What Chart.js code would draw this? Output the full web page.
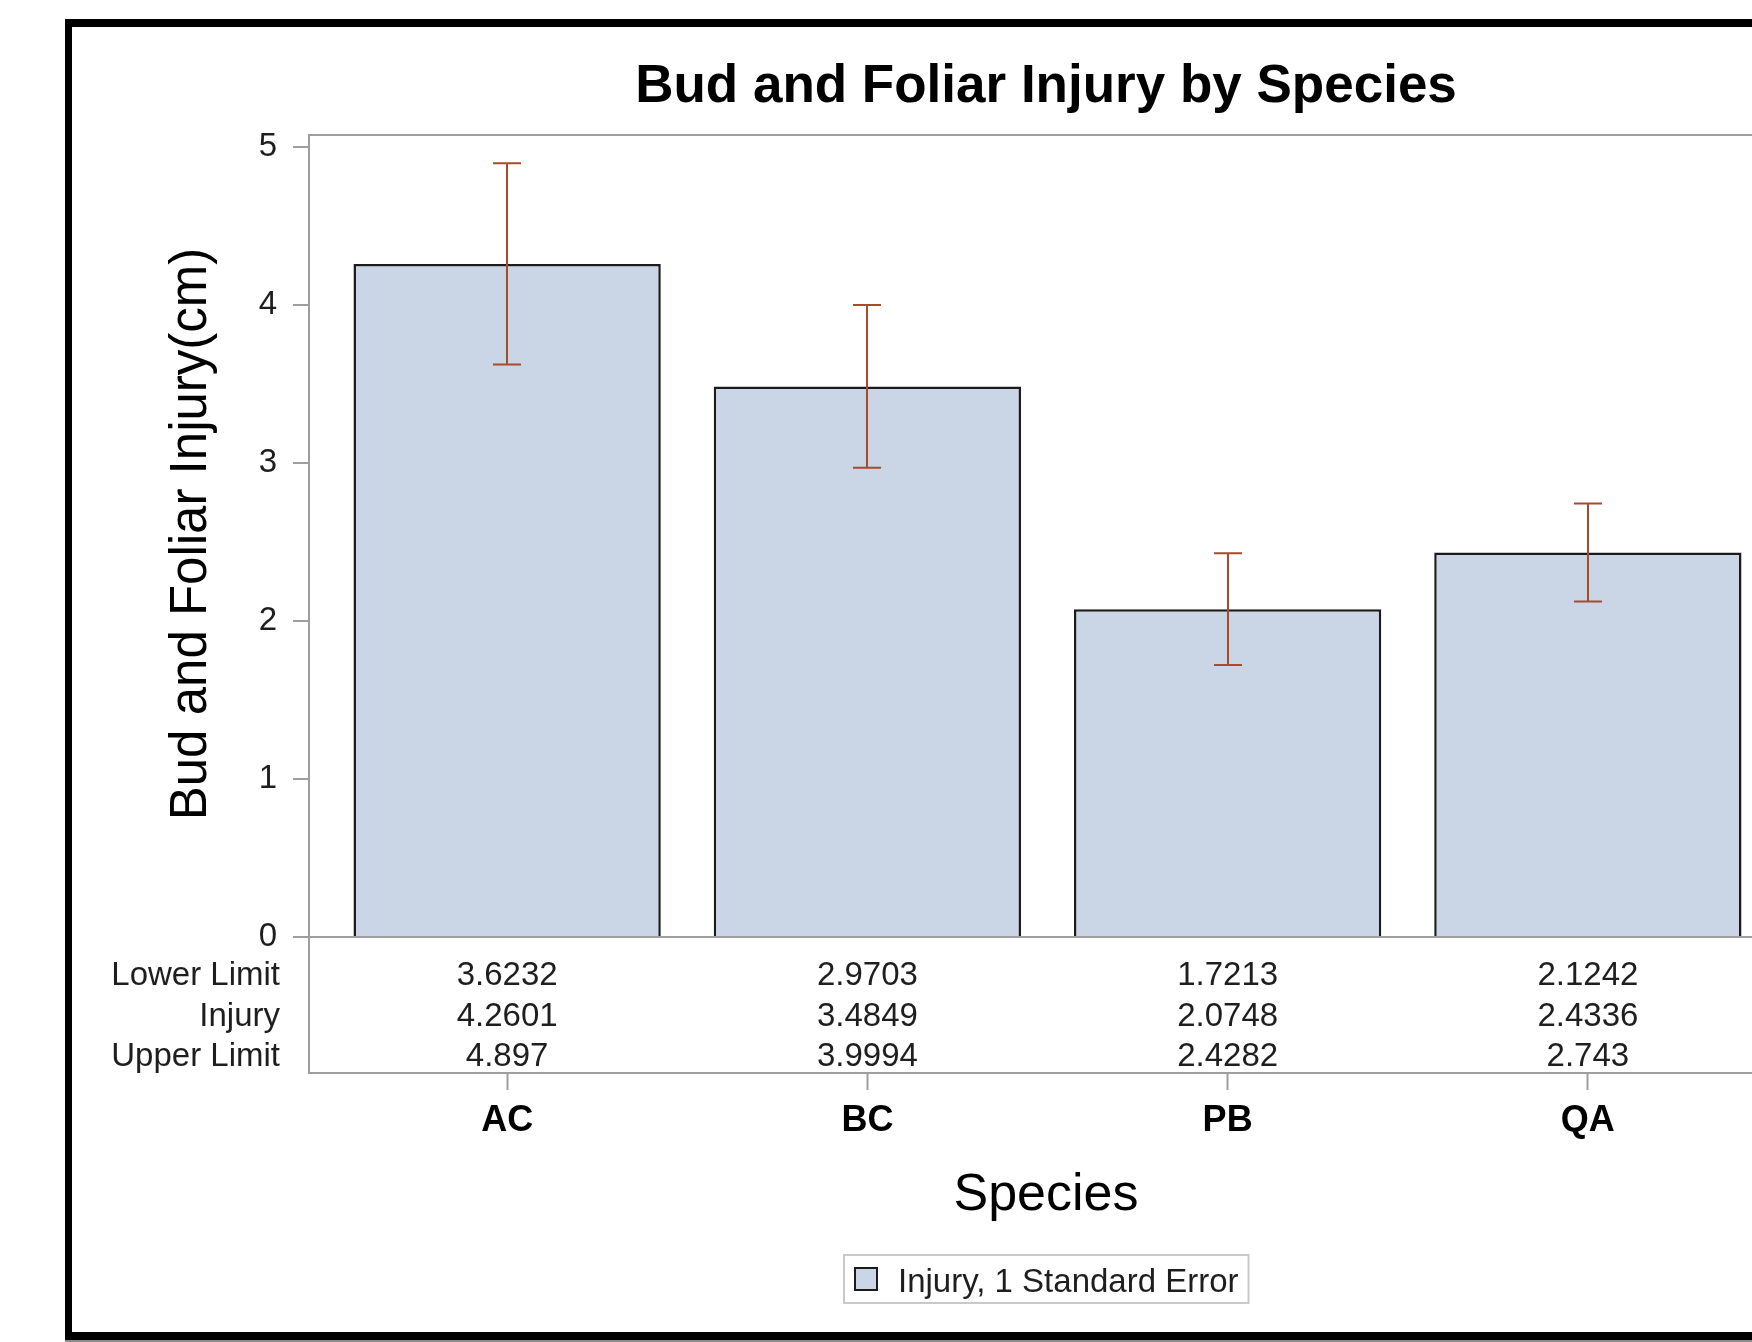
<!DOCTYPE html>
<html>
<head>
<meta charset="utf-8">
<title>Bud and Foliar Injury by Species</title>
<script src="https://cdn.jsdelivr.net/npm/chart.js@4.4.0/dist/chart.umd.min.js"></script>
<style>
  html, body { margin: 0; padding: 0; background: #fff; }
  #stage { position: relative; width: 1752px; height: 1342px; overflow: hidden; background: #fff; }
  #plot  { position: absolute; left: 0; top: 0; }
  #frame { position: absolute; left: 65px; top: 19px; width: 2000px; height: 1305px;
           border-left: 7px solid #000; border-top: 8px solid #000; border-bottom: 8px solid #000;
           pointer-events: none; }
  #strip { position: absolute; left: 65px; top: 1340px; width: 1700px; height: 2px; background: #8c8c8c; }
</style>
</head>
<body>
<div id="stage">
  <canvas id="plot" width="2092" height="1342"></canvas>
  <div id="frame"></div>
  <div id="strip"></div>
</div>
<script>
// ── Data ──────────────────────────────────────────────────────
const SPECIES     = ['AC', 'BC', 'PB', 'QA'];
const INJURY      = [4.2601, 3.4849, 2.0748, 2.4336];
const LOWER_LIMIT = [3.6232, 2.9703, 1.7213, 2.1242];
const UPPER_LIMIT = [4.897, 3.9994, 2.4282, 2.743];
const Y_TICKS     = [0, 1, 2, 3, 4, 5];
const ROW_LABELS  = ['Lower Limit', 'Injury', 'Upper Limit'];

const TITLE   = 'Bud and Foliar Injury by Species';
const X_TITLE = 'Species';
const Y_TITLE = 'Bud and Foliar Injury(cm)';
const LEGEND  = 'Injury, 1 Standard Error';

// ── Style ─────────────────────────────────────────────────────
const FONT      = "'Liberation Sans', Arial, Helvetica, sans-serif";
const BAR_FILL  = '#cad5e5';
const BAR_LINE  = '#1b1b1b';
const ERR_COLOR = '#a94b2b';
const AXIS_GRAY = '#9e9e9e';
const TEXT_DARK = '#1e1e1e';

// SAS-style extras: error bars, statistics table, titles, boxed legend
const sasDecor = {
    id: 'sasDecor',
    afterDatasetsDraw(chart) {
        const { ctx, chartArea: a, scales: { x, y } } = chart;
        ctx.save();

        // top / right edges of the plot frame
        ctx.strokeStyle = AXIS_GRAY;
        ctx.lineWidth = 2;
        ctx.beginPath();
        ctx.moveTo(a.left, a.top);
        ctx.lineTo(a.right, a.top);
        ctx.lineTo(a.right, a.bottom);
        ctx.stroke();

        // error bars
        ctx.strokeStyle = ERR_COLOR;
        ctx.lineWidth = 2;
        SPECIES.forEach((_, i) => {
            const px = Math.round(x.getPixelForValue(i));
            const lo = y.getPixelForValue(LOWER_LIMIT[i]);
            const hi = y.getPixelForValue(UPPER_LIMIT[i]);
            ctx.beginPath();
            ctx.moveTo(px, lo); ctx.lineTo(px, hi);
            ctx.moveTo(px - 14, lo); ctx.lineTo(px + 14, lo);
            ctx.moveTo(px - 14, hi); ctx.lineTo(px + 14, hi);
            ctx.stroke();
        });

        // statistics table under the zero line
        const rows = [LOWER_LIMIT, INJURY, UPPER_LIMIT];
        const baselines = [985, 1026, 1066];
        ctx.fillStyle = TEXT_DARK;
        ctx.font = `33px ${FONT}`;
        ctx.textBaseline = 'alphabetic';
        rows.forEach((vals, r) => {
            ctx.textAlign = 'right';
            ctx.fillText(ROW_LABELS[r], 280, baselines[r]);
            ctx.textAlign = 'center';
            vals.forEach((v, i) => ctx.fillText(String(v), x.getPixelForValue(i), baselines[r]));
        });
        ctx.restore();
    },
    afterDraw(chart) {
        const { ctx } = chart;
        const cx = chart.width / 2;
        ctx.save();
        ctx.fillStyle = '#000';

        // main title
        ctx.font = `bold 53px ${FONT}`;
        ctx.textAlign = 'center';
        ctx.textBaseline = 'alphabetic';
        ctx.fillText(TITLE, cx, 102);

        // x axis title
        ctx.font = `52px ${FONT}`;
        ctx.fillText(X_TITLE, cx, 1210);

        // y axis title
        ctx.font = `51px ${FONT}`;
        ctx.save();
        ctx.translate(192, 534);
        ctx.rotate(-Math.PI / 2);
        ctx.textBaseline = 'middle';
        ctx.fillText(Y_TITLE, 0, 0);
        ctx.restore();

        // legend box
        ctx.font = `33px ${FONT}`;
        const tw = ctx.measureText(LEGEND).width;
        const boxW = 12 + 23 + 19 + tw + 10;
        const bx = Math.round(cx - boxW / 2), by = 1255, bh = 48;
        ctx.strokeStyle = '#c9c9c9';
        ctx.lineWidth = 2;
        ctx.strokeRect(bx, by, boxW, bh);
        ctx.fillStyle = BAR_FILL;
        ctx.fillRect(bx + 11, by + 13, 22, 22);
        ctx.strokeStyle = BAR_LINE;
        ctx.strokeRect(bx + 11, by + 13, 22, 22);
        ctx.fillStyle = TEXT_DARK;
        ctx.textAlign = 'left';
        ctx.fillText(LEGEND, bx + 12 + 23 + 19, 1292);
        ctx.restore();
    }
};

new Chart(document.getElementById('plot'), {
    type: 'bar',
    data: {
        datasets: [{
            label: LEGEND,
            data: SPECIES.map((_, i) => ({ x: i, y: INJURY[i] })),
            backgroundColor: BAR_FILL,
            borderColor: BAR_LINE,
            borderWidth: 2.5,
            categoryPercentage: 1,
            barPercentage: 0.853,
        }],
    },
    options: {
        responsive: false, maintainAspectRatio: false, animation: false,
        devicePixelRatio: 1,
        layout: { padding: { left: 0, top: 135, right: 306, bottom: 0 } },
        plugins: {
            legend: { display: false },
            title: { display: false },
            tooltip: { enabled: false },
        },
        scales: {
            x: {
                type: 'linear',
                offset: false,
                min: -0.55, max: 3.55,
                afterBuildTicks: s => { s.ticks = SPECIES.map((_, i) => ({ value: i })); },
                afterFit: s => { s.height = 269; },
                ticks: {
                    callback: v => SPECIES[v],
                    color: '#000',
                    font: { family: FONT, size: 36, weight: 'bold' },
                    padding: 9,
                    maxRotation: 0,
                },
                grid: { offset: false, drawOnChartArea: false, tickLength: 17, tickColor: AXIS_GRAY, tickWidth: 2 },
                border: { color: AXIS_GRAY, width: 2 },
            },
            y: {
                min: -(136 / 158), max: 5 + 12 / 158,
                afterBuildTicks: s => { s.ticks = Y_TICKS.map(v => ({ value: v })); },
                afterFit: s => { s.width = 309; },
                ticks: {
                    color: TEXT_DARK,
                    font: { family: FONT, size: 33 },
                    padding: 16,
                },
                grid: {
                    color: c => c.tick && c.tick.value === 0 ? AXIS_GRAY : 'rgba(0,0,0,0)',
                    lineWidth: 2,
                    tickLength: 16,
                    tickColor: AXIS_GRAY,
                    tickWidth: 2,
                },
                border: { color: AXIS_GRAY, width: 2 },
            },
        },
    },
    plugins: [sasDecor],
});
</script>
</body>
</html>
